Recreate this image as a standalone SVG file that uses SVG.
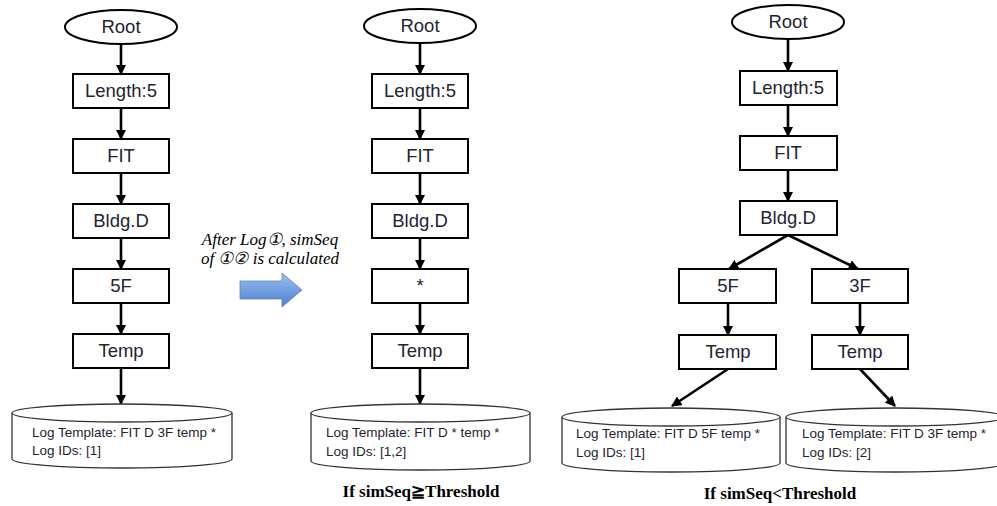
<svg xmlns="http://www.w3.org/2000/svg" width="997" height="506" viewBox="0 0 997 506">
<defs>
<style>
.box{fill:#fff;stroke:#000;stroke-width:2}
.root{fill:#fff;stroke:#000;stroke-width:2}
.lbl{font-family:"Liberation Sans",Arial,sans-serif;font-size:18.5px;fill:#1f2433;text-anchor:middle}
.cyl{fill:#fff;stroke:#333;stroke-width:1.3}
.ct{font-family:"Liberation Sans",Arial,sans-serif;font-size:13.5px;fill:#1f2433}
.con{stroke:#000;stroke-width:2.6;fill:none;marker-end:url(#ah)}
.cap{font-family:"Liberation Serif","Times New Roman",serif;font-size:17px;font-weight:bold;fill:#000;text-anchor:middle}
.note{font-family:"Liberation Serif","Times New Roman","DejaVu Serif",serif;font-size:17px;font-style:italic;fill:#000;text-anchor:middle}
</style>
<marker id="ah" viewBox="0 0 10 10" refX="9" refY="5" markerWidth="4" markerHeight="4" orient="auto" markerUnits="strokeWidth">
<path d="M0,0 L10,5 L0,10 Z" fill="#000"/>
</marker>
<linearGradient id="bg" x1="0" y1="0" x2="0" y2="1">
<stop offset="0" stop-color="#9dc0ee"/>
<stop offset="1" stop-color="#4c7fcf"/>
</linearGradient>
</defs>

<g id="connectors">
<line class="con" x1="121" y1="44" x2="121" y2="74"/>
<line class="con" x1="121" y1="108" x2="121" y2="139"/>
<line class="con" x1="121" y1="173" x2="121" y2="204"/>
<line class="con" x1="121" y1="238" x2="121" y2="269"/>
<line class="con" x1="121" y1="303" x2="121" y2="334"/>
<line class="con" x1="121" y1="368" x2="121" y2="404"/>

<line class="con" x1="420" y1="43" x2="420" y2="74"/>
<line class="con" x1="420" y1="108" x2="420" y2="139"/>
<line class="con" x1="420" y1="173" x2="420" y2="204"/>
<line class="con" x1="420" y1="238" x2="420" y2="269"/>
<line class="con" x1="420" y1="303" x2="420" y2="334"/>
<line class="con" x1="420" y1="368" x2="420" y2="404"/>

<line class="con" x1="788" y1="39" x2="788" y2="71"/>
<line class="con" x1="788" y1="105" x2="788" y2="136"/>
<line class="con" x1="788" y1="170" x2="788" y2="201"/>
<line class="con" x1="788" y1="235" x2="729" y2="269"/>
<line class="con" x1="788" y1="235" x2="858" y2="269"/>
<line class="con" x1="728" y1="303" x2="728" y2="335"/>
<line class="con" x1="860" y1="303" x2="860" y2="335"/>
<line class="con" x1="728" y1="369" x2="672" y2="406"/>
<line class="con" x1="860" y1="369" x2="895" y2="406"/>
</g>

<!-- Left column -->
<g id="L_root"><ellipse class="root" cx="121" cy="27" rx="56" ry="17"/><text class="lbl" x="121" y="33">Root</text></g>
<g id="L_len"><rect class="box" x="73" y="74" width="96" height="34"/><text class="lbl" x="121" y="97">Length:5</text></g>
<g id="L_fit"><rect class="box" x="73" y="139" width="96" height="34"/><text class="lbl" x="121" y="162">FIT</text></g>
<g id="L_bldg"><rect class="box" x="73" y="204" width="96" height="34"/><text class="lbl" x="121" y="227">Bldg.D</text></g>
<g id="L_5f"><rect class="box" x="73" y="269" width="96" height="34"/><text class="lbl" x="121" y="292">5F</text></g>
<g id="L_temp"><rect class="box" x="73" y="334" width="96" height="34"/><text class="lbl" x="121" y="357">Temp</text></g>
<g id="L_cyl">
<path class="cyl" d="M12,413 L12,459 A110,9 0 0 0 232,459 L232,413"/>
<ellipse class="cyl" cx="122" cy="413" rx="110" ry="9"/>
<text class="ct" x="32" y="437">Log Template: FIT D 3F temp *</text>
<text class="ct" x="32" y="455">Log IDs: [1]</text>
</g>

<!-- Transition -->
<g id="transition">
<text class="note" x="270" y="245">After Log①, simSeq</text>
<text class="note" x="270" y="264">of ①② is calculated</text>
<path d="M240,281 L282,281 L282,273 L302,290 L282,307 L282,299 L240,299 Z" fill="url(#bg)" stroke="#5b86c8" stroke-width="0.8"/>
</g>

<!-- Middle column -->
<g id="M_root"><ellipse class="root" cx="420" cy="26" rx="56" ry="17"/><text class="lbl" x="420" y="32">Root</text></g>
<g id="M_len"><rect class="box" x="372" y="74" width="96" height="34"/><text class="lbl" x="420" y="97">Length:5</text></g>
<g id="M_fit"><rect class="box" x="372" y="139" width="96" height="34"/><text class="lbl" x="420" y="162">FIT</text></g>
<g id="M_bldg"><rect class="box" x="372" y="204" width="96" height="34"/><text class="lbl" x="420" y="227">Bldg.D</text></g>
<g id="M_star"><rect class="box" x="372" y="269" width="96" height="34"/><text class="lbl" x="420" y="292">*</text></g>
<g id="M_temp"><rect class="box" x="372" y="334" width="96" height="34"/><text class="lbl" x="420" y="357">Temp</text></g>
<g id="M_cyl">
<path class="cyl" d="M311,413 L311,461 A109.5,9 0 0 0 530,461 L530,413"/>
<ellipse class="cyl" cx="420.5" cy="413" rx="109.5" ry="9"/>
<text class="ct" x="326" y="437">Log Template: FIT D * temp *</text>
<text class="ct" x="326" y="456">Log IDs: [1,2]</text>
</g>
<text class="cap" x="421" y="497">If simSeq≧Threshold</text>

<!-- Right column -->
<g id="R_root"><ellipse class="root" cx="788" cy="22" rx="56" ry="17"/><text class="lbl" x="788" y="28">Root</text></g>
<g id="R_len"><rect class="box" x="740" y="71" width="97" height="34"/><text class="lbl" x="788" y="94">Length:5</text></g>
<g id="R_fit"><rect class="box" x="740" y="136" width="97" height="34"/><text class="lbl" x="788" y="159">FIT</text></g>
<g id="R_bldg"><rect class="box" x="740" y="201" width="97" height="34"/><text class="lbl" x="788" y="224">Bldg.D</text></g>
<g id="R_5f"><rect class="box" x="679" y="269" width="97" height="34"/><text class="lbl" x="728" y="292">5F</text></g>
<g id="R_3f"><rect class="box" x="812" y="269" width="96" height="34"/><text class="lbl" x="860" y="292">3F</text></g>
<g id="R_temp1"><rect class="box" x="679" y="335" width="97" height="34"/><text class="lbl" x="728" y="358">Temp</text></g>
<g id="R_temp2"><rect class="box" x="812" y="335" width="96" height="34"/><text class="lbl" x="860" y="358">Temp</text></g>
<g id="R_cyl1">
<path class="cyl" d="M562,417 L562,463 A109,9 0 0 0 780,463 L780,417"/>
<ellipse class="cyl" cx="671" cy="417" rx="109" ry="9"/>
<text class="ct" x="576" y="438">Log Template: FIT D 5F temp *</text>
<text class="ct" x="576" y="457">Log IDs: [1]</text>
</g>
<g id="R_cyl2">
<path class="cyl" d="M786,417 L786,463 A109,9 0 0 0 1004,463 L1004,417"/>
<ellipse class="cyl" cx="895" cy="417" rx="109" ry="9"/>
<text class="ct" x="802" y="438">Log Template: FIT D 3F temp *</text>
<text class="ct" x="802" y="457">Log IDs: [2]</text>
</g>
<text class="cap" x="780" y="499">If simSeq&lt;Threshold</text>
</svg>
